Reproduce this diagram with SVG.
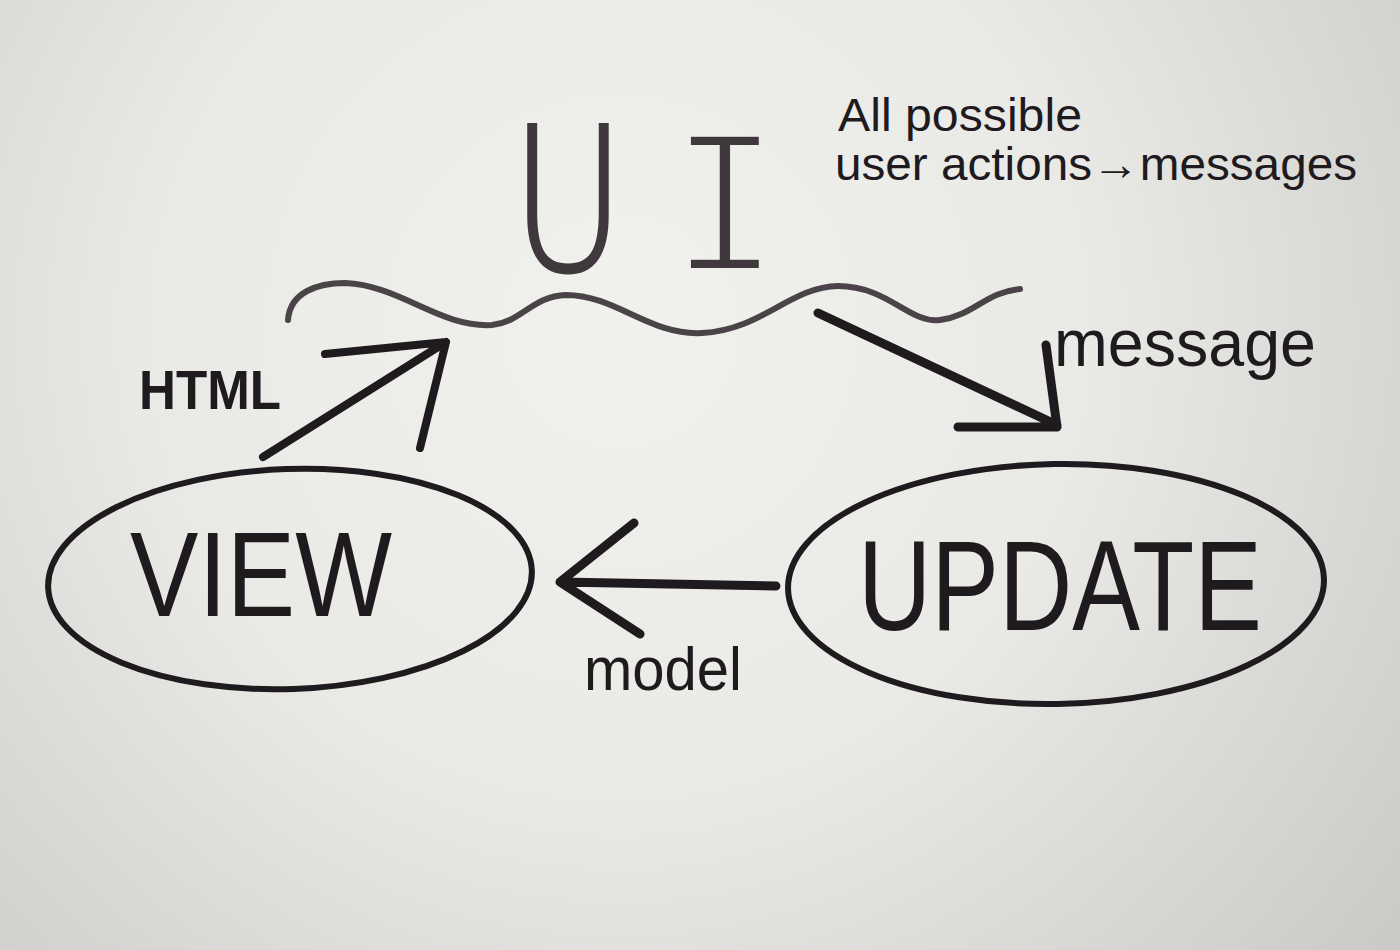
<svg xmlns="http://www.w3.org/2000/svg" width="1400" height="950" viewBox="0 0 1400 950">
  <defs>
    <radialGradient id="paper" cx="620" cy="330" r="1050" gradientUnits="userSpaceOnUse">
      <stop offset="0" stop-color="#f1f1ee"/>
      <stop offset="0.45" stop-color="#e9e9e6"/>
      <stop offset="1" stop-color="#c6c6c4"/>
    </radialGradient>
    <style>
      .ink { fill: none; stroke: #1f1a1d; stroke-linecap: round; stroke-linejoin: round; }
      .thin { fill: none; stroke: #4a4448; stroke-width: 6; stroke-linecap: round; stroke-linejoin: round; }
      .txt { fill: #1f1a1d; font-family: "Liberation Sans", Arial, sans-serif; }
      .light { fill: #3f393d; stroke: #3f393d; stroke-width: 3; font-family: "DejaVu Sans", "Liberation Sans", sans-serif; font-weight: 200; }
      .mono { fill: #3f393d; stroke: url(#paper); stroke-width: 8; font-family: "Liberation Mono", "DejaVu Sans Mono", monospace; }
    </style>
  </defs>
  <rect x="0" y="0" width="1400" height="950" fill="url(#paper)"/>

  <g id="node-ui">
    <text class="light" x="511" y="270" font-size="200" textLength="114" lengthAdjust="spacingAndGlyphs">U</text>
    <text class="mono" x="669" y="272" font-size="212" textLength="112" lengthAdjust="spacingAndGlyphs">I</text>
    <path class="thin" d="M288,320 C290,292 318,283 345,283 C400,285 440,328 492,325 C522,322 532,296 566,295 C616,295 650,336 702,333 C762,330 790,287 838,286 C888,286 910,324 940,320 C975,315 985,292 1020,289"/>
  </g>

  <g id="note">
    <text class="txt" x="838" y="131" font-size="46" textLength="244" lengthAdjust="spacingAndGlyphs">All possible</text>
    <text class="txt" x="835" y="180" font-size="46" textLength="522" lengthAdjust="spacingAndGlyphs">user actions→messages</text>
  </g>

  <g id="node-view">
    <ellipse class="ink" stroke-width="6" cx="290" cy="579" rx="242" ry="110" transform="rotate(-2 290 579)"/>
    <text class="txt" x="130" y="616" font-size="120" textLength="262" lengthAdjust="spacingAndGlyphs">VIEW</text>
  </g>

  <g id="node-update">
    <ellipse class="ink" stroke-width="6" cx="1056" cy="584" rx="268" ry="120" transform="rotate(-1 1056 584)"/>
    <text class="txt" x="858" y="630" font-size="128" textLength="404" lengthAdjust="spacingAndGlyphs">UPDATE</text>
  </g>

  <g id="connectors">
    <path class="ink" stroke-width="8" d="M263,457 L446,342 M325,354 L446,342 L420,448"/>
    <path class="ink" stroke-width="9" d="M818,313 L1057,425 M1046,345 L1057,427 L958,427"/>
    <path class="ink" stroke-width="9" d="M776,586 L560,582 M634,523 L560,582 L640,634"/>
  </g>

  <g id="labels">
    <text class="txt" x="139" y="409" font-size="56" font-weight="bold" textLength="142" lengthAdjust="spacingAndGlyphs">HTML</text>
    <text class="txt" x="1054" y="366" font-size="66" textLength="262" lengthAdjust="spacingAndGlyphs">message</text>
    <text class="txt" x="584" y="690" font-size="62" textLength="158" lengthAdjust="spacingAndGlyphs">model</text>
  </g>
</svg>
